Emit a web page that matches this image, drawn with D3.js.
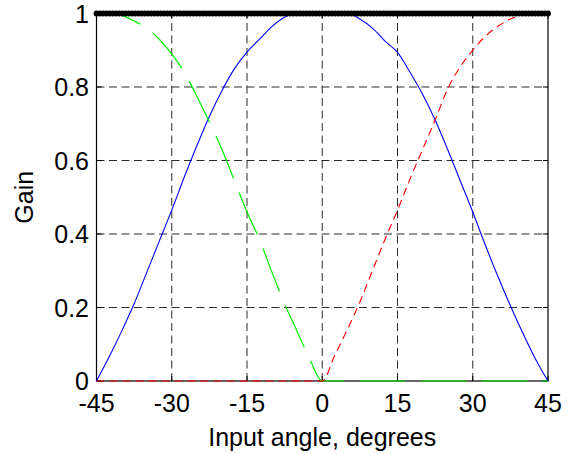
<!DOCTYPE html>
<html>
<head>
<meta charset="utf-8">
<script src="https://cdn.jsdelivr.net/npm/d3@7"></script>
<style>
  html, body { margin: 0; padding: 0; background: #fff; }
  svg { display: block; }
  text { font-family: "Liberation Sans", Arial, Helvetica, sans-serif; fill: #000; }
</style>
</head>
<body>
<svg id="chart" width="570" height="454"></svg>
<script>
// ---- data ----
const angles = [-45, -42.5, -40, -37.5, -35, -32.5, -30, -27.5, -25, -22.5, -20, -17.5, -15, -12.5, -10, -7.5, -5, -2.5, 0,
                2.5, 5, 7.5, 10, 12.5, 15, 17.5, 20, 22.5, 25, 27.5, 30, 32.5, 35, 37.5, 40, 42.5, 45];
const blueGain = [0, 0.065, 0.135, 0.21, 0.295, 0.38, 0.465, 0.555, 0.64, 0.72, 0.79, 0.85, 0.895, 0.93, 0.965, 0.99, 1, 1, 1,
                  1, 1, 0.985, 0.96, 0.925, 0.894, 0.84, 0.78, 0.71, 0.63, 0.545, 0.46, 0.37, 0.285, 0.205, 0.13, 0.06, 0];
const greenGain = [1, 1, 0.995, 0.98, 0.96, 0.93, 0.89, 0.84, 0.775, 0.705, 0.63, 0.545, 0.46, 0.385, 0.295, 0.21, 0.135, 0.06, 0,
                   0, 0, 0, 0, 0, 0, 0, 0, 0, 0, 0, 0, 0, 0, 0, 0, 0, 0];
const redGain = [0, 0, 0, 0, 0, 0, 0, 0, 0, 0, 0, 0, 0, 0, 0, 0, 0, 0, 0,
                 0.07, 0.14, 0.215, 0.3, 0.385, 0.465, 0.55, 0.63, 0.71, 0.795, 0.855, 0.9, 0.938, 0.965, 0.985, 0.997, 1, 1];
const markerCount = 141;          // black dots along gain = 1
const markerGain = 1;
const xTicks = [-45, -30, -15, 0, 15, 30, 45];
const yTicks = [0, 0.2, 0.4, 0.6, 0.8, 1];
const yTickLabels = ["0", "0.2", "0.4", "0.6", "0.8", "1"];
const xLabel = "Input angle, degrees";
const yLabel = "Gain";

// ---- layout ----
const L = 96.5, R = 548, T = 13.5, B = 381;
const svg = d3.select("#chart");
const x = d3.scaleLinear().domain([-45, 45]).range([L, R]);
const y = d3.scaleLinear().domain([0, 1]).range([B, T]);
const FS = 25;

// grid
const grid = svg.append("g").attr("stroke", "#2a2a2a").attr("stroke-width", 1).attr("stroke-dasharray", "8,4.5");
xTicks.filter(d => d > -45 && d < 45).forEach(d => {
  grid.append("line").attr("x1", x(d)).attr("x2", x(d)).attr("y1", B).attr("y2", T);
});
yTicks.filter(d => d > 0 && d < 1).forEach(d => {
  grid.append("line").attr("x1", L).attr("x2", R).attr("y1", y(d)).attr("y2", y(d));
});

// box
svg.append("rect").attr("x", L).attr("y", T).attr("width", R - L).attr("height", B - T)
  .attr("fill", "none").attr("stroke", "#000").attr("stroke-width", 1.2);

// ticks (inward)
const tk = svg.append("g").attr("stroke", "#000").attr("stroke-width", 1);
xTicks.forEach(d => {
  tk.append("line").attr("x1", x(d)).attr("x2", x(d)).attr("y1", B).attr("y2", B - 5);
  tk.append("line").attr("x1", x(d)).attr("x2", x(d)).attr("y1", T).attr("y2", T + 5);
});
yTicks.forEach(d => {
  tk.append("line").attr("x1", L).attr("x2", L + 5).attr("y1", y(d)).attr("y2", y(d));
  tk.append("line").attr("x1", R).attr("x2", R - 5).attr("y1", y(d)).attr("y2", y(d));
});

// tick labels
xTicks.forEach(d => {
  svg.append("text").attr("x", x(d)).attr("y", 412).attr("text-anchor", "middle")
    .attr("font-size", FS).text(d);
});
yTicks.forEach((d, i) => {
  svg.append("text").attr("x", 89).attr("y", y(d)).attr("dy", "0.36em").attr("text-anchor", "end")
    .attr("font-size", FS).text(yTickLabels[i]);
});

// axis labels
svg.append("text").attr("x", (L + R) / 2).attr("y", 446).attr("text-anchor", "middle")
  .attr("font-size", FS).text(xLabel);
svg.append("text").attr("transform", `translate(33,${(T + B) / 2}) rotate(-90)`)
  .attr("text-anchor", "middle").attr("font-size", FS).text(yLabel);

// series
const line = vals => d3.line().curve(d3.curveMonotoneX)
  .x((d, i) => x(angles[i])).y(d => y(d))(vals);

svg.append("path").attr("d", line(blueGain)).attr("fill", "none")
  .attr("stroke", "#0000ff").attr("stroke-width", 1.1);
svg.append("path").attr("d", line(greenGain)).attr("fill", "none")
  .attr("stroke", "#00ee00").attr("stroke-width", 1.2).attr("stroke-dasharray", "46,15");
svg.append("path").attr("d", line(redGain)).attr("fill", "none")
  .attr("stroke", "#ff0000").attr("stroke-width", 1.1).attr("stroke-dasharray", "8,5");

// markers
const markerAngles = d3.range(markerCount).map(i => -45 + i * 90 / (markerCount - 1));
svg.append("g").selectAll("circle").data(markerAngles).join("circle")
  .attr("cx", d => x(d)).attr("cy", y(markerGain)).attr("r", 2.9).attr("fill", "#000");
</script>
</body>
</html>
